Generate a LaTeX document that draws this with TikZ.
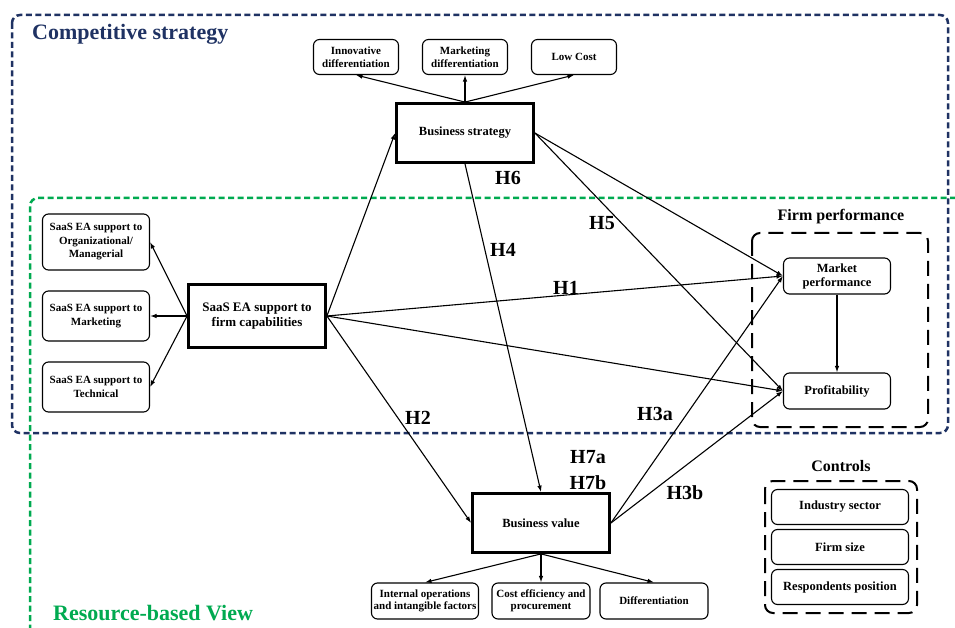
\documentclass[tikz,border=0pt]{standalone}
\usepackage{fontspec}
\setmainfont{Liberation Serif}
\usetikzlibrary{arrows.meta}

\definecolor{azulcs}{RGB}{31,50,99}
\definecolor{verderbv}{RGB}{0,170,80}

\tikzset{
    caja/.style={draw, rounded corners=6pt, line width=1.1pt, align=center, inner sep=1pt,
        font=\bfseries\fontsize{11}{12.5}\selectfont},
    constructo/.style={draw, line width=2.8pt, align=center, inner sep=1pt,
        minimum width=137pt, minimum height=59pt, font=\bfseries\fontsize{12.5}{15}\selectfont},
    flecha/.style={-{Latex[length=6.5pt,width=4.5pt]}, line width=1.1pt},
    marco/.style={line width=2.5pt, dash pattern=on 6pt off 3.5pt},
    grupo/.style={line width=2pt, dash pattern=on 15pt off 8pt, rounded corners=8pt},
    hip/.style={inner sep=0pt, font=\bfseries\fontsize{20}{22}\selectfont},
    titulo/.style={inner sep=0pt, font=\bfseries\fontsize{22}{24}\selectfont},
}

\begin{document}
\begin{tikzpicture}[x=1pt,y=-1pt]
    \useasboundingbox (0,0) rectangle (955,628);

    % Marco RBV (verde) y estrategia competitiva (azul)
    \draw[verderbv, marco, rounded corners=8pt] (30,640) -- (30,198) -- (960,198);
    \draw[azulcs, marco, rounded corners=8pt] (12,15) rectangle (948,433);
    \node[titulo, azulcs, anchor=base west] (tcs) at (32,40) {Competitive strategy};
    \node[titulo, verderbv, anchor=base west] (trbv) at (53,620) {Resource-based View};

    % Estrategia de negocio
    \node[constructo] (bs) at (465,133) {Business strategy};
    \node[caja, minimum width=85pt, minimum height=35pt] (innov) at (356,57) {Innovative\\differentiation};
    \node[caja, minimum width=85pt, minimum height=35pt] (mktd) at (465,57) {Marketing\\differentiation};
    \node[caja, minimum width=85pt, minimum height=35pt] (lowc) at (574,57) {Low Cost};
    \draw[flecha] (bs.north) -- (innov.south);
    \draw[flecha] (bs.north) -- (mktd.south);
    \draw[flecha] (bs.north) -- (lowc.south);

    % Capacidades SaaS EA
    \node[constructo, font=\bfseries\fontsize{13}{15}\selectfont, minimum height=63pt] (saas) at (257,316) {SaaS EA support to\\firm capabilities};
    \node[caja, minimum width=107pt, minimum height=56pt, font=\bfseries\fontsize{11}{13.5}\selectfont] (org) at (96,242) {SaaS EA support to\\Organizational/\\Managerial};
    \node[caja, minimum width=107pt, minimum height=50pt, font=\bfseries\fontsize{11}{13.5}\selectfont] (mkt) at (96,316) {SaaS EA support to\\Marketing};
    \node[caja, minimum width=107pt, minimum height=50pt, font=\bfseries\fontsize{11}{13.5}\selectfont] (tec) at (96,387) {SaaS EA support to\\Technical};
    \draw[flecha] (saas.west) -- (org.east);
    \draw[flecha] (saas.west) -- (mkt.east);
    \draw[flecha] (saas.west) -- (tec.east);

    % Valor de negocio
    \node[constructo] (bv) at (541,523) {Business value};
    \node[caja, minimum width=107pt, minimum height=36pt] (intop) at (425,601) {Internal operations\\and intangible factors};
    \node[caja, minimum width=98pt, minimum height=36pt] (cost) at (541,601) {Cost efficiency and\\procurement};
    \node[caja, minimum width=108pt, minimum height=36pt] (dif) at (654,601) {Differentiation};
    \draw[flecha] (bv.south) -- (intop.north);
    \draw[flecha] (bv.south) -- (cost.north);
    \draw[flecha] (bv.south) -- (dif.north);

    % Desempeno de la firma
    \draw[grupo] (752,233) rectangle (928,427);
    \node[inner sep=0pt, font=\bfseries\fontsize{16}{18}\selectfont] (tfp) at (841,217) {Firm performance};
    \node[caja, minimum width=107pt, minimum height=36pt, font=\bfseries\fontsize{12.5}{14}\selectfont] (mp) at (837,276) {Market\\performance};
    \node[caja, minimum width=107pt, minimum height=36pt, font=\bfseries\fontsize{12.5}{14}\selectfont] (prof) at (837,391) {Profitability};
    \draw[flecha] (mp.south) -- (prof.north);

    % Controles
    \draw[grupo] (765,481) rectangle (917,613);
    \node[inner sep=0pt, font=\bfseries\fontsize{16}{18}\selectfont] (tctl) at (841,466) {Controls};
    \node[caja, minimum width=137pt, minimum height=35pt, font=\bfseries\fontsize{12.5}{14}\selectfont] (ind) at (840,507) {Industry sector};
    \node[caja, minimum width=137pt, minimum height=35pt, font=\bfseries\fontsize{12.5}{14}\selectfont] (size) at (840,547) {Firm size};
    \node[caja, minimum width=137pt, minimum height=35pt, font=\bfseries\fontsize{12.5}{14}\selectfont] (resp) at (840,587) {Respondents position};

    % Hipotesis
    \draw[flecha] (saas.east) -- (bs.west);
    \draw[flecha] (saas.east) -- (mp.west);
    \draw[flecha] (saas.east) -- (prof.west);
    \draw[flecha] (saas.east) -- (bv.west);
    \draw[flecha] (bs.east) -- (mp.west);
    \draw[flecha] (bs.east) -- (prof.west);
    \draw[flecha] (bs.south) -- (bv.north);
    \draw[flecha] (bv.east) -- (mp.west);
    \draw[flecha] (bv.east) -- (prof.west);

    % etiquetas
    \node[hip] (h6) at (508,178) {H6};
    \node[hip] (h4) at (503,250) {H4};
    \node[hip] (h5) at (602,223) {H5};
    \node[hip] (h1) at (566,288) {H1};
    \node[hip] (h2) at (418,418) {H2};
    \node[hip] (h3a) at (655,414) {H3a};
    \node[hip] (h7a) at (588,457) {H7a};
    \node[hip] (h7b) at (588,483) {H7b};
    \node[hip] (h3b) at (685,493) {H3b};

\end{tikzpicture}
\end{document}
